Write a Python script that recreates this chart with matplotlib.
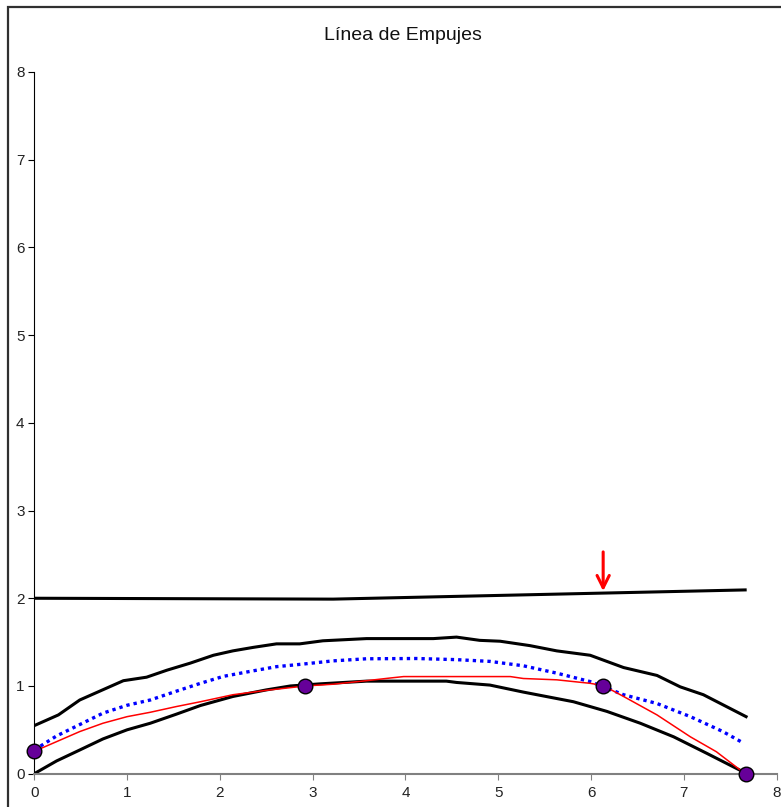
import matplotlib.pyplot as plt
from matplotlib.patches import Rectangle

# trasdós (upper edge of the arch)
x_extrados = [0, 0.26, 0.49, 0.96, 1.21, 1.43, 1.68, 1.93, 2.14, 2.36, 2.61, 2.86, 3.11,
              3.58, 4.30, 4.55, 4.80, 5.02, 5.34, 5.63, 5.99, 6.35, 6.71, 6.96, 7.21, 7.67]
y_extrados = [0.548, 0.67, 0.84, 1.06, 1.10, 1.18, 1.26, 1.35, 1.40, 1.44, 1.48, 1.48, 1.515,
              1.54, 1.54, 1.557, 1.52, 1.51, 1.46, 1.40, 1.35, 1.21, 1.12, 0.99, 0.90, 0.65]

# intradós (lower edge)
x_intrados = [0, 0.24, 0.49, 0.74, 1.0, 1.25, 1.53, 1.79, 2.14, 2.50, 2.76, 3.08, 3.58,
              4.44, 4.55, 4.91, 5.27, 5.81, 6.17, 6.53, 6.89, 7.25, 7.64, 7.67]
y_intrados = [0, 0.145, 0.27, 0.396, 0.50, 0.575, 0.678, 0.777, 0.88, 0.955, 1.0, 1.024, 1.055,
              1.055, 1.04, 1.01, 0.93, 0.82, 0.71, 0.575, 0.42, 0.23, 0.02, 0]

# línea media
x_media = [0, 0.24, 0.49, 0.74, 1.0, 1.25, 1.53, 1.79, 2.04, 2.32, 2.61, 2.90, 3.22, 3.58,
           4.12, 4.55, 4.91, 5.27, 5.63, 5.99, 6.35, 6.71, 7.07, 7.42, 7.64]
y_media = [0.27, 0.43, 0.56, 0.69, 0.78, 0.84, 0.94, 1.03, 1.11, 1.165, 1.22, 1.25, 1.286, 1.31,
           1.313, 1.30, 1.28, 1.23, 1.146, 1.05, 0.90, 0.80, 0.65, 0.48, 0.35]

# línea de empujes
x_empujes = [0, 0.24, 0.49, 0.74, 1.0, 1.25, 1.53, 1.79, 2.14, 2.50, 2.92, 3.22, 3.58, 3.83,
             3.98, 5.13, 5.27, 5.63, 5.99, 6.13, 6.35, 6.71, 7.07, 7.35, 7.64, 7.67]
y_empujes = [0.255, 0.365, 0.48, 0.575, 0.65, 0.70, 0.765, 0.82, 0.90, 0.95, 1.0, 1.02, 1.06, 1.09,
             1.107, 1.107, 1.085, 1.07, 1.03, 1.005, 0.88, 0.67, 0.42, 0.25, 0.015, 0]

# carga superior
x_carga = [0, 3.22, 7.66]
y_carga = [2.0, 1.99, 2.095]

# puntos de paso
x_puntos = [0, 2.92, 6.13, 7.67]
y_puntos = [0.26, 1.0, 1.0, 0]

# carga puntual
x_flecha = 6.13
y_flecha = (2.56, 2.05)

fig = plt.figure(figsize=(7.81, 8.07), dpi=100)
ax = fig.add_axes([0.0439, 0.0413, 0.9506, 0.8695])

ax.plot(x_carga, y_carga, color='black', lw=2.2)
ax.plot(x_extrados, y_extrados, color='black', lw=2.2)
ax.plot(x_intrados, y_intrados, color='black', lw=2.2)
ax.plot(x_media, y_media, color='blue', lw=2.4, linestyle=(0, (1, 1.2)))
ax.plot(x_empujes, y_empujes, color='red', lw=1.1)
ax.plot(x_puntos, y_puntos, 'o', markersize=10.5, markerfacecolor='#660099',
        markeredgecolor='black', markeredgewidth=1.0, zorder=5, clip_on=False)

ax.annotate('', xy=(x_flecha, y_flecha[1]), xytext=(x_flecha, y_flecha[0]),
            arrowprops=dict(arrowstyle='->', color='red', lw=2.2, mutation_scale=22))

ax.set_xlim(0, 8)
ax.set_ylim(0, 8)
ax.set_xticks(range(9))
ax.set_yticks(range(9))
ax.spines['top'].set_visible(False)
ax.spines['right'].set_visible(False)
ax.spines['left'].set_color('black')
ax.spines['bottom'].set_color('#808080')
ax.spines['bottom'].set_linewidth(1.5)
ax.tick_params(axis='both', length=4, labelsize=11, labelcolor='#222222')
ax.tick_params(axis='x', pad=5, color='#808080')
ax.tick_params(axis='y', pad=3)
for lab in ax.get_xticklabels() + ax.get_yticklabels():
    lab.set_fontfamily('Liberation Sans')

fig.text(0.516, 0.9566, 'Línea de Empujes', ha='center', va='center',
         fontsize=14, family='Liberation Sans', color='#111111')

# marco del gráfico
fig.patches.append(Rectangle((8 / 781, -0.1), 1.2, 0.1 + (807 - 7) / 807,
                             transform=fig.transFigure, fill=False,
                             edgecolor='#303030', lw=1.6))

fig.savefig('out.png', dpi=100)
